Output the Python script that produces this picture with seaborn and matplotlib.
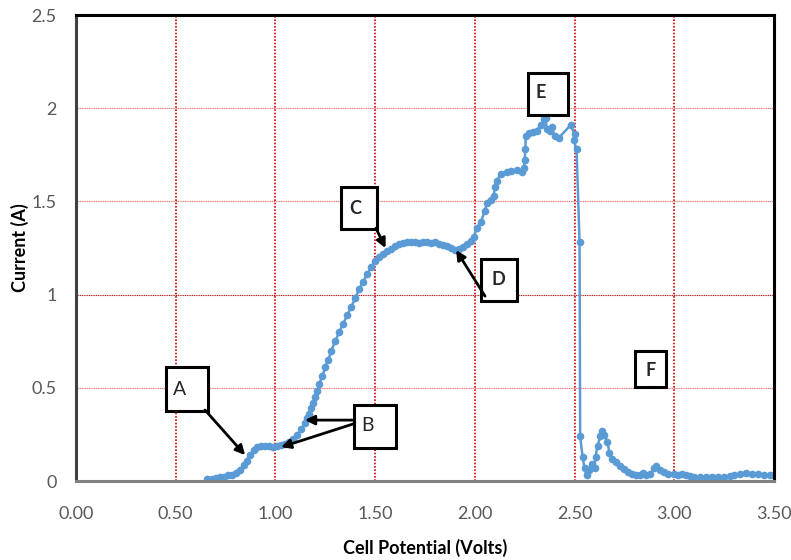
import matplotlib
matplotlib.use("Agg")
import matplotlib.pyplot as plt
from matplotlib.patches import Rectangle
import seaborn as sns
import pandas as pd

# Cell potential (V) and current (A)
potential = [
    0.655, 0.68, 0.70, 0.72, 0.74, 0.76, 0.78, 0.80, 0.82, 0.84,
    0.855, 0.87, 0.89, 0.91, 0.93, 0.95, 0.97, 0.99, 1.01, 1.03,
    1.05, 1.07, 1.09, 1.11, 1.13, 1.15, 1.16, 1.17, 1.18, 1.19,
    1.20, 1.21, 1.22, 1.235, 1.25, 1.265, 1.28, 1.30, 1.32, 1.34,
    1.36, 1.38, 1.40, 1.42, 1.44, 1.46, 1.48, 1.50, 1.52, 1.54,
    1.56, 1.58, 1.60, 1.62, 1.64, 1.66, 1.68, 1.70, 1.72, 1.74,
    1.76, 1.78, 1.80, 1.82, 1.84, 1.86, 1.88, 1.90, 1.92, 1.94,
    1.96, 1.98, 1.995, 2.01, 2.03, 2.05, 2.06, 2.08, 2.095, 2.10,
    2.11, 2.13, 2.16, 2.18, 2.21, 2.235, 2.245, 2.25, 2.253, 2.255,
    2.27, 2.29, 2.31, 2.33, 2.345, 2.355, 2.36, 2.375, 2.385, 2.40,
    2.42, 2.48, 2.50, 2.495, 2.51, 2.525, 2.528, 2.54, 2.55, 2.56,
    2.57, 2.585, 2.60, 2.605, 2.615, 2.63, 2.64, 2.65, 2.665, 2.675,
    2.69, 2.71, 2.73, 2.75, 2.77, 2.79, 2.81, 2.83, 2.845, 2.86,
    2.88, 2.90, 2.91, 2.93, 2.95, 2.97, 3.00, 3.02, 3.04, 3.06,
    3.08, 3.10, 3.13, 3.16, 3.19, 3.22, 3.25, 3.28, 3.30, 3.33,
    3.36, 3.39, 3.42, 3.45, 3.48, 3.50,
]
current = [
    0.01, 0.01, 0.015, 0.02, 0.02, 0.03, 0.035, 0.045, 0.06, 0.085,
    0.11, 0.14, 0.165, 0.185, 0.19, 0.19, 0.19, 0.185, 0.19, 0.195,
    0.20, 0.21, 0.225, 0.245, 0.28, 0.31, 0.34, 0.36, 0.39, 0.42,
    0.45, 0.485, 0.52, 0.565, 0.61, 0.65, 0.70, 0.75, 0.80, 0.845,
    0.89, 0.935, 0.98, 1.03, 1.07, 1.11, 1.15, 1.18, 1.20, 1.22,
    1.235, 1.245, 1.26, 1.27, 1.275, 1.28, 1.285, 1.28, 1.275, 1.285,
    1.28, 1.275, 1.285, 1.27, 1.265, 1.26, 1.25, 1.24, 1.245, 1.255,
    1.27, 1.29, 1.31, 1.36, 1.39, 1.45, 1.49, 1.51, 1.53, 1.58,
    1.61, 1.65, 1.66, 1.665, 1.67, 1.66, 1.68, 1.72, 1.78, 1.85,
    1.87, 1.875, 1.88, 1.91, 1.94, 1.95, 1.89, 1.88, 1.90, 1.85,
    1.84, 1.91, 1.86, 1.83, 1.78, 1.28, 0.24, 0.13, 0.07, 0.03,
    0.06, 0.09, 0.07, 0.13, 0.19, 0.24, 0.27, 0.245, 0.21, 0.15,
    0.12, 0.10, 0.08, 0.065, 0.05, 0.04, 0.03, 0.035, 0.045, 0.03,
    0.04, 0.07, 0.08, 0.06, 0.05, 0.04, 0.04, 0.035, 0.04, 0.03,
    0.025, 0.02, 0.02, 0.02, 0.02, 0.02, 0.02, 0.025, 0.035, 0.04,
    0.045, 0.04, 0.04, 0.03, 0.03, 0.03,
]

x_ticks = [0.0, 0.5, 1.0, 1.5, 2.0, 2.5, 3.0, 3.5]
x_tick_labels = ["0.00", "0.50", "1.00", "1.50", "2.00", "2.50", "3.00", "3.50"]
y_ticks = [0, 0.5, 1, 1.5, 2, 2.5]
y_tick_labels = ["0", "0.5", "1", "1.5", "2", "2.5"]

# Region labels: letter, box (x0, y0, x1, y1), text position, bold
regions = {
    "A": ((0.451, 0.376, 0.662, 0.612), (0.52, 0.49), False),
    "B": ((1.394, 0.177, 1.605, 0.408), (1.46, 0.30), False),
    "C": ((1.329, 1.352, 1.510, 1.577), (1.40, 1.465), True),
    "D": ((2.031, 0.966, 2.212, 1.191), (2.12, 1.08), True),
    "E": ((2.267, 1.963, 2.467, 2.189), (2.33, 2.085), True),
    "F": ((2.803, 0.504, 2.959, 0.697), (2.88, 0.595), True),
}
# Arrows: (start, end) in data units
arrows = [
    ((0.647, 0.381), (0.848, 0.139)),
    ((1.389, 0.327), (1.148, 0.327)),
    ((1.389, 0.306), (1.028, 0.182)),
    ((1.504, 1.357), (1.552, 1.250)),
    ((2.051, 0.992), (1.906, 1.239)),
]

sns.set_theme(style="white")
plt.rcParams["font.family"] = ["Lato", "DejaVu Sans"]

fig = plt.figure(figsize=(7.91, 5.60), dpi=100)
ax = fig.add_axes([0.0961, 0.141, 0.8824, 0.832])

df = pd.DataFrame({"Cell Potential (Volts)": potential, "Current (A)": current})

# grid lines first so the curve sits on top
for xv in x_ticks[1:-1]:
    ax.axvline(xv, color="#d40000", lw=1.2, ls=(0, (1, 1)), zorder=1)
for yv in y_ticks[1:-1]:
    col = "#b02020" if yv == 1 else "#e87070"
    ax.axhline(yv, color=col, lw=0.8, ls=(0, (1, 0.6)), zorder=1)

sns.lineplot(data=df, x="Cell Potential (Volts)", y="Current (A)", ax=ax,
             sort=False, estimator=None, color="#5b9bd5", lw=1.8,
             marker="o", markersize=5.5, markeredgewidth=0, zorder=3)

ax.set_xlim(0, 3.5)
ax.set_ylim(0, 2.5)
ax.set_xticks(x_ticks)
ax.set_xticklabels(x_tick_labels)
ax.set_yticks(y_ticks)
ax.set_yticklabels(y_tick_labels)
ax.tick_params(axis="both", length=0, labelsize=13, labelcolor="#595959")
ax.tick_params(axis="x", pad=18)
ax.tick_params(axis="y", pad=14)

ax.set_xlabel("Cell Potential (Volts)", fontsize=13, fontweight="bold",
              color="black", labelpad=12)
ax.set_ylabel("Current (A)", fontsize=13, fontweight="bold",
              color="black", labelpad=2)

ax.spines["top"].set_color("black")
ax.spines["right"].set_color("black")
ax.spines["left"].set_color("#404040")
ax.spines["bottom"].set_color("#808080")
for s in ax.spines.values():
    s.set_linewidth(2.2)
    s.set_zorder(5)

for letter, (box, pos, bold) in regions.items():
    x0, y0, x1, y1 = box
    ax.add_patch(Rectangle((x0, y0), x1 - x0, y1 - y0, facecolor="white",
                           edgecolor="black", lw=2.2, zorder=6))
    ax.text(pos[0], pos[1], letter, ha="center", va="center", zorder=7,
            fontsize=13 if bold else 14,
            fontweight="bold" if bold else "normal")

for start, end in arrows:
    ax.annotate("", xy=end, xytext=start, zorder=7,
                arrowprops=dict(arrowstyle="-|>", color="black", lw=2,
                                mutation_scale=14, shrinkA=0, shrinkB=0))

fig.savefig("out.png", dpi=100)
